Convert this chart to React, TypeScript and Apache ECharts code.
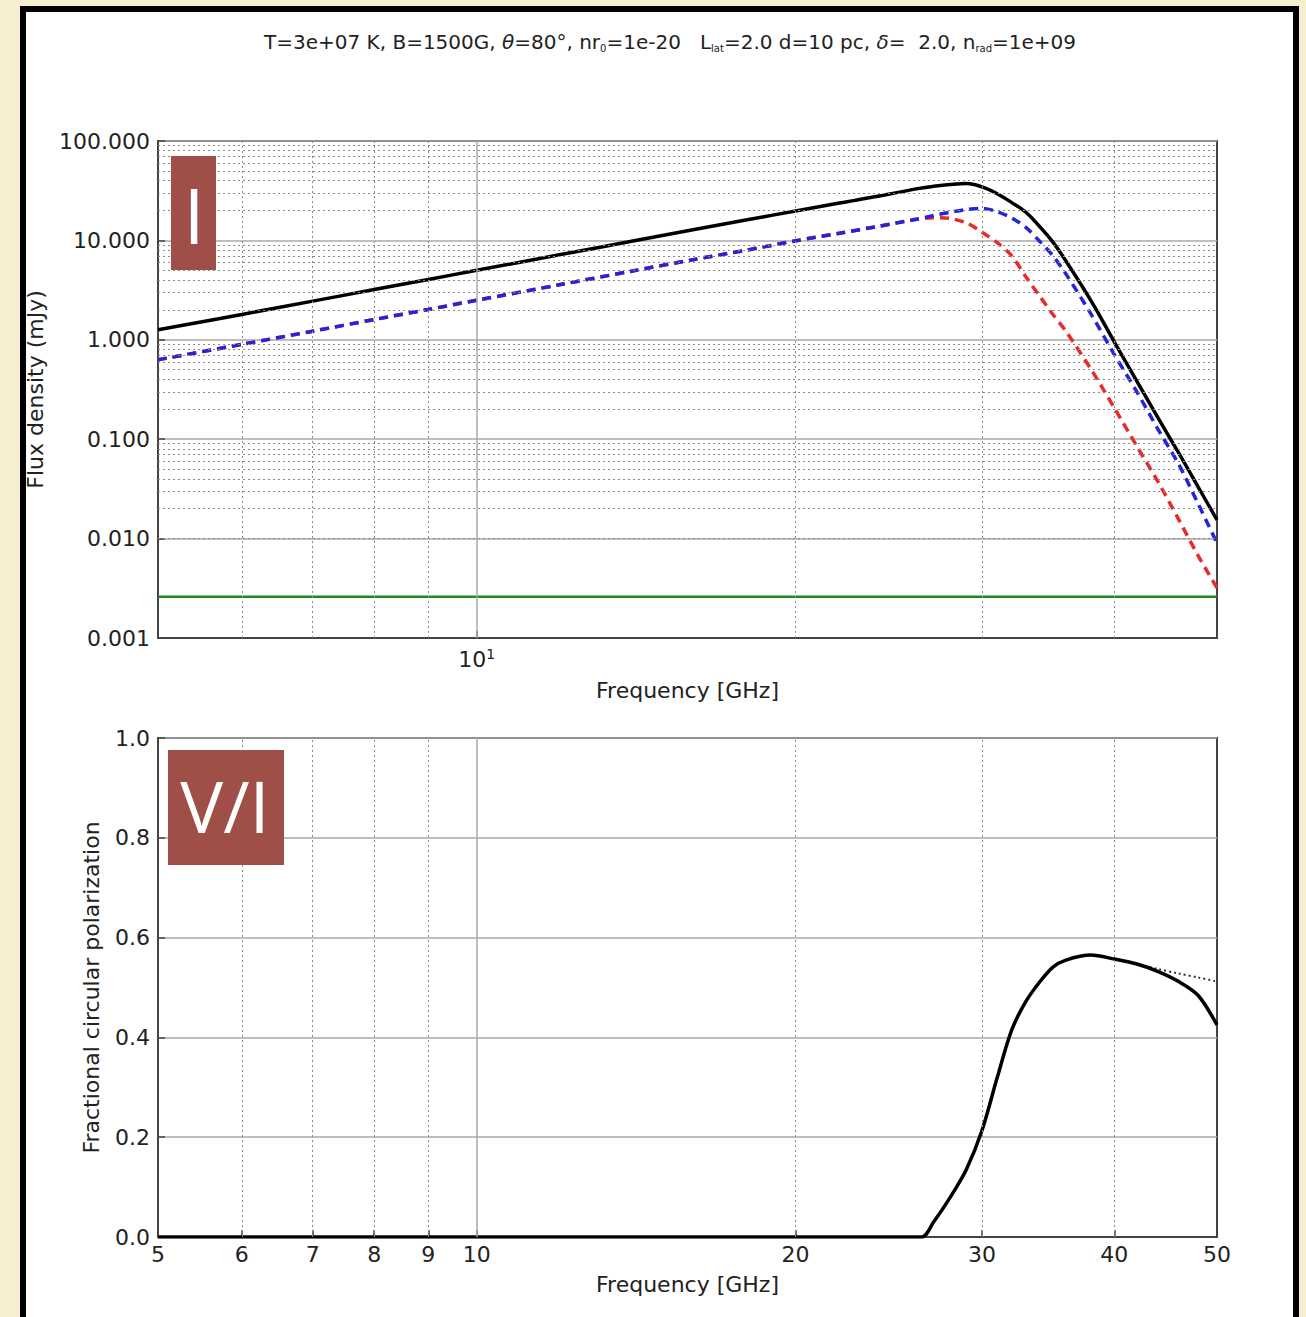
import React, { useEffect, useRef } from "react";
import * as echarts from "echarts";

// ---------- data ----------
const FREQ = [5, 6, 7, 8, 9, 10, 12, 14, 16, 18, 20, 22, 24, 26, 27, 28, 29, 30, 31, 32, 33, 34, 35, 36, 38, 40, 42, 44, 46, 48, 50];
const FLUX_TOTAL = [1.26, 1.8, 2.45, 3.2, 4.05, 5.0, 7.2, 9.8, 12.8, 16.1, 19.8, 23.8, 28.0, 33.0, 35.0, 36.5, 37.3, 34.5, 29.5, 24.0, 19.2, 13.8, 9.6, 6.2, 2.49, 0.95, 0.385, 0.163, 0.0727, 0.033, 0.0154];
const FLUX_BLUE = [0.63, 0.9, 1.22, 1.6, 2.02, 2.5, 3.6, 4.9, 6.4, 8.0, 9.9, 11.8, 13.9, 16.3, 17.8, 19.2, 20.4, 21.0, 19.5, 16.8, 13.5, 9.8, 7.0, 4.6, 1.83, 0.71, 0.3, 0.125, 0.056, 0.0223, 0.009];
const FLUX_RED = [0.63, 0.9, 1.22, 1.6, 2.02, 2.5, 3.6, 4.9, 6.4, 8.0, 9.9, 11.8, 13.9, 16.3, 16.9, 16.6, 15.0, 12.1, 9.5, 7.0, 4.3, 2.75, 1.8, 1.22, 0.51, 0.206, 0.085, 0.037, 0.0156, 0.0067, 0.0032];
const FREQ_GREEN = [5, 50];
const FLUX_GREEN = [0.0026, 0.0026];

const FREQ_V = [5, 10, 20, 26.3, 27, 28, 29, 30, 31, 32, 33, 34, 35, 36, 38, 40, 42, 44, 46, 48, 50];
const VI = [0, 0, 0, 0, 0.03, 0.08, 0.136, 0.214, 0.319, 0.415, 0.472, 0.511, 0.541, 0.555, 0.565, 0.557, 0.547, 0.532, 0.512, 0.484, 0.425];
const FREQ_VD = [38, 40, 42, 44, 46, 48, 50];
const VI_DOTTED = [0.565, 0.557, 0.547, 0.537, 0.528, 0.52, 0.512];

const X_TICKS_BOTTOM = [5, 6, 7, 8, 9, 10, 20, 30, 40, 50];
const X_MINOR = [6, 7, 8, 9, 20, 30, 40];
const Y_DECADES = [0.001, 0.01, 0.1, 1, 10];

const FONT = "DejaVu Sans";
const TXT = "#222";
const FS = 22;

export default function App() {
  const ref = useRef<HTMLDivElement>(null);

  useEffect(() => {
    if (!ref.current) return;
    const chart = echarts.init(ref.current, undefined, { renderer: "svg" });

    const pairs = (xs: number[], ys: number[]) => xs.map((x, i) => [x, ys[i]]);

    const dotted = { type: [2, 3] as any, color: "#8a8a8a", width: 1 };
    const majorSolid = { type: "solid" as any, color: "#a8a8a8", width: 1.5 };

    const yMinor: any[] = [];
    Y_DECADES.forEach((d) => {
      for (let k = 2; k <= 9; k++) yMinor.push({ yAxis: +(k * d).toPrecision(3), lineStyle: dotted });
    });
    const xMinor = X_MINOR.map((v) => ({ xAxis: v, lineStyle: dotted }));

    const mark = (data: any[]) => ({
      silent: true,
      symbol: ["none", "none"],
      label: { show: false },
      emphasis: { disabled: true },
      animation: false,
      data,
    });

    const axisLineStyle = { color: "#444", width: 2 };

    const option: any = {
      animation: false,
      backgroundColor: "transparent",
      textStyle: { fontFamily: FONT },
      grid: [
        { left: 158, top: 141, width: 1059, height: 497, show: true, borderColor: "#444", borderWidth: 2, backgroundColor: "transparent" },
        { left: 158, top: 738, width: 1059, height: 499, show: true, borderColor: "#444", borderWidth: 2, backgroundColor: "transparent" },
      ],
      xAxis: [
        {
          type: "log",
          logBase: 10,
          gridIndex: 0,
          min: 5,
          max: 50,
          name: "Frequency [GHz]",
          nameLocation: "middle",
          nameGap: 41,
          nameTextStyle: { fontSize: FS, color: TXT, fontFamily: FONT },
          axisLine: { show: true, lineStyle: axisLineStyle },
          axisTick: { show: true, inside: true, length: 7, lineStyle: { color: "#444", width: 1.5 } },
          axisLabel: {
            fontSize: FS,
            color: TXT,
            fontFamily: FONT,
            margin: 9,
            formatter: (v: number) => (Math.abs(v - 10) < 1e-6 ? "10{sup|1}" : ""),
            rich: { sup: { fontSize: 14, color: TXT, fontFamily: FONT, verticalAlign: "top", padding: [0, 0, 10, 0] } },
          },
          splitLine: { show: false },
        },
        {
          type: "log",
          logBase: 10,
          gridIndex: 1,
          min: 5,
          max: 50,
          name: "Frequency [GHz]",
          nameLocation: "middle",
          nameGap: 36,
          nameTextStyle: { fontSize: FS, color: TXT, fontFamily: FONT },
          axisLine: { show: true, lineStyle: axisLineStyle },
          axisTick: { show: true, inside: true, length: 7, customValues: X_TICKS_BOTTOM, lineStyle: { color: "#444", width: 1.5 } },
          axisLabel: {
            fontSize: FS,
            color: TXT,
            fontFamily: FONT,
            margin: 6,
            customValues: X_TICKS_BOTTOM,
            showMinLabel: true,
            showMaxLabel: true,
            formatter: (v: number) => String(Math.round(v)),
          },
          splitLine: { show: false },
        },
      ],
      yAxis: [
        {
          type: "log",
          logBase: 10,
          gridIndex: 0,
          min: 0.001,
          max: 100,
          name: "Flux density (mJy)",
          nameLocation: "middle",
          nameGap: 112,
          nameTextStyle: { fontSize: FS, color: TXT, fontFamily: FONT },
          axisLine: { show: true, lineStyle: axisLineStyle },
          axisTick: { show: true, inside: true, length: 7, lineStyle: { color: "#444", width: 1.5 } },
          axisLabel: { fontSize: FS, color: TXT, fontFamily: FONT, margin: 8, formatter: (v: number) => v.toFixed(3) },
          splitLine: { show: true, lineStyle: majorSolid },
        },
        {
          type: "value",
          gridIndex: 1,
          min: 0,
          max: 1,
          interval: 0.2,
          name: "Fractional circular polarization",
          nameLocation: "middle",
          nameGap: 56,
          nameTextStyle: { fontSize: FS, color: TXT, fontFamily: FONT },
          axisLine: { show: true, lineStyle: axisLineStyle },
          axisTick: { show: true, inside: true, length: 7, lineStyle: { color: "#444", width: 1.5 } },
          axisLabel: { fontSize: FS, color: TXT, fontFamily: FONT, margin: 8, formatter: (v: number) => v.toFixed(1) },
          splitLine: { show: true, lineStyle: majorSolid },
        },
      ],
      series: [
        {
          type: "line",
          xAxisIndex: 0,
          yAxisIndex: 0,
          data: [],
          z: 1,
          silent: true,
          markLine: mark([...yMinor, ...xMinor, { xAxis: 10, lineStyle: majorSolid }]),
        },
        {
          type: "line",
          xAxisIndex: 1,
          yAxisIndex: 1,
          data: [],
          z: 1,
          silent: true,
          markLine: mark([...xMinor, { xAxis: 10, lineStyle: majorSolid }]),
        },
        {
          name: "background",
          type: "line",
          xAxisIndex: 0,
          yAxisIndex: 0,
          data: pairs(FREQ_GREEN, FLUX_GREEN),
          showSymbol: false,
          z: 3,
          lineStyle: { color: "#1f8a1f", width: 2.5 },
        },
        {
          name: "I red",
          type: "line",
          xAxisIndex: 0,
          yAxisIndex: 0,
          data: pairs(FREQ, FLUX_RED),
          showSymbol: false,
          smooth: 0.3,
          z: 3,
          lineStyle: { color: "#e82a2a", width: 3.5, type: [9, 6] },
        },
        {
          name: "I blue",
          type: "line",
          xAxisIndex: 0,
          yAxisIndex: 0,
          data: pairs(FREQ, FLUX_BLUE),
          showSymbol: false,
          smooth: 0.3,
          z: 3,
          lineStyle: { color: "#2424d8", width: 3.5, type: [9, 6] },
        },
        {
          name: "I total",
          type: "line",
          xAxisIndex: 0,
          yAxisIndex: 0,
          data: pairs(FREQ, FLUX_TOTAL),
          showSymbol: false,
          smooth: 0.4,
          z: 3,
          lineStyle: { color: "#000", width: 3.5 },
        },
        {
          name: "V/I dotted",
          type: "line",
          xAxisIndex: 1,
          yAxisIndex: 1,
          data: pairs(FREQ_VD, VI_DOTTED),
          showSymbol: false,
          smooth: 0.3,
          z: 3,
          lineStyle: { color: "#333", width: 2, type: [2, 3] },
        },
        {
          name: "V/I",
          type: "line",
          xAxisIndex: 1,
          yAxisIndex: 1,
          data: pairs(FREQ_V, VI),
          showSymbol: false,
          smooth: 0.3,
          z: 3,
          lineStyle: { color: "#000", width: 3.5 },
        },
      ],
      graphic: [
        {
          type: "text",
          x: 670,
          y: 42,
          style: {
            text: "T=3e+07 K, B=1500G, {it|θ}=80°, nr{sub|0}=1e-20   L{sub|lat}=2.0 d=10 pc, {it|δ}=  2.0, n{sub|rad}=1e+09",
            fontSize: 20,
            fontFamily: FONT,
            fill: TXT,
            align: "center",
            verticalAlign: "middle",
            lineHeight: 23,
            rich: {
              sub: { fontSize: 10, fontFamily: FONT, fill: TXT, lineHeight: 11, verticalAlign: "bottom" },
              it: { fontSize: 20, fontFamily: FONT, fill: TXT, fontStyle: "italic", lineHeight: 23 },
            },
          },
        },
        { type: "rect", shape: { x: 171, y: 156, width: 45, height: 114 }, style: { fill: "#9f4f48" }, z: 10 },
        {
          type: "text",
          x: 194,
          y: 214,
          z: 11,
          style: { text: "I", fontSize: 76, fontFamily: "Open Sans", fill: "#fff", align: "center", verticalAlign: "middle" },
        },
        { type: "rect", shape: { x: 168, y: 750, width: 116, height: 115 }, style: { fill: "#9f4f48" }, z: 10 },
        {
          type: "text",
          x: 225,
          y: 805,
          z: 11,
          style: { text: "V/I", fontSize: 72, fontFamily: "Open Sans", fill: "#fff", align: "center", verticalAlign: "middle" },
        },
      ],
    };

    chart.setOption(option);
    return () => chart.dispose();
  }, []);

  return (
    <div style={{ position: "fixed", left: 0, top: 0, width: 1306, height: 1317, background: "#f7eed2", overflow: "hidden" }}>
      <div style={{ position: "absolute", left: 26, top: 12, width: 1267, height: 1400, background: "#fff" }} />
      <div ref={ref} style={{ position: "absolute", left: 0, top: 0, width: 1306, height: 1317 }} />
      <div
        style={{
          position: "absolute",
          left: 20,
          top: 6,
          width: 1267,
          height: 1400,
          border: "6px solid #000",
          pointerEvents: "none",
        }}
      />
    </div>
  );
}
